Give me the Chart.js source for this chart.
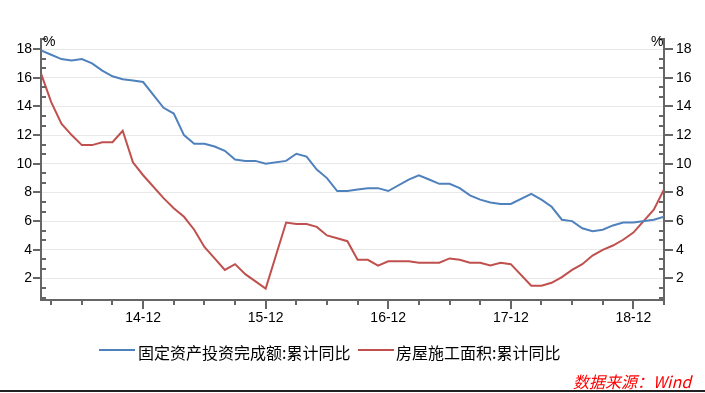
<!DOCTYPE html>
<html><head><meta charset="utf-8">
<script src="https://cdn.jsdelivr.net/npm/chart.js@4.4.1/dist/chart.umd.min.js"></script>
<style>
html,body{margin:0;padding:0;background:#fff;}
#wrap{position:relative;width:705px;height:393px;overflow:hidden;font-family:"Noto Sans CJK SC",sans-serif;}
#c{position:absolute;left:0;top:0;}
.pct{position:absolute;top:33px;font:14px "Liberation Sans",Arial,sans-serif;line-height:16px;color:#000;}
.leg{position:absolute;top:342px;font-size:16px;line-height:20px;color:#000;white-space:nowrap;}
.legline{position:absolute;top:349px;height:2px;width:36px;}
#src{position:absolute;left:573px;top:371px;font-size:16px;line-height:20px;color:#ff0000;font-style:italic;white-space:nowrap;}
#rule{position:absolute;left:0;top:390px;width:705px;height:2px;background:#222;}
</style></head>
<body>
<div id="wrap">
<canvas id="c" width="705" height="393"></canvas>
<div class="pct" style="left:43px">%</div>
<div class="pct" style="left:651px">%</div>
<div class="legline" style="left:99px;background:#4f81bd"></div>
<div class="leg" id="leg1" style="left:138px"></div>
<div class="legline" style="left:358px;background:#c0504d"></div>
<div class="leg" id="leg2" style="left:396px"></div>
<div id="src">数据来源：Wind</div>
<div id="rule"></div>
</div>
<script>
// ---- data (monthly cumulative YoY, %; January not published) ----
const dates = [
 '2014-02','2014-03','2014-04','2014-05','2014-06','2014-07','2014-08','2014-09','2014-10','2014-11','2014-12',
 '2015-02','2015-03','2015-04','2015-05','2015-06','2015-07','2015-08','2015-09','2015-10','2015-11','2015-12',
 '2016-02','2016-03','2016-04','2016-05','2016-06','2016-07','2016-08','2016-09','2016-10','2016-11','2016-12',
 '2017-02','2017-03','2017-04','2017-05','2017-06','2017-07','2017-08','2017-09','2017-10','2017-11','2017-12',
 '2018-02','2018-03','2018-04','2018-05','2018-06','2018-07','2018-08','2018-09','2018-10','2018-11','2018-12',
 '2019-02','2019-03'
];
const seriesNames = ['固定资产投资完成额:累计同比','房屋施工面积:累计同比'];
const fixedAssetInvYoY = [
 17.9,17.6,17.3,17.2,17.3,17.0,16.5,16.1,15.9,15.8,15.7,
 13.9,13.5,12.0,11.4,11.4,11.2,10.9,10.3,10.2,10.2,10.0,
 10.2,10.7,10.5,9.6,9.0,8.1,8.1,8.2,8.3,8.3,8.1,
 8.9,9.2,8.9,8.6,8.6,8.3,7.8,7.5,7.3,7.2,7.2,
 7.9,7.5,7.0,6.1,6.0,5.5,5.3,5.4,5.7,5.9,5.9,
 6.1,6.3
];
const constructionAreaYoY = [
 16.3,14.3,12.8,12.0,11.3,11.3,11.5,11.5,12.3,10.1,9.2,
 7.6,6.9,6.3,5.4,4.2,3.4,2.6,3.0,2.3,1.8,1.3,
 5.9,5.8,5.8,5.6,5.0,4.8,4.6,3.3,3.3,2.9,3.2,
 3.2,3.1,3.1,3.1,3.4,3.3,3.1,3.1,2.9,3.1,3.0,
 1.5,1.5,1.7,2.1,2.6,3.0,3.6,4.0,4.3,4.7,5.2,
 6.8,8.2
];
const xStart = '2014-02', xEnd = '2019-03';
const xTickMonths = ['2014-03','2014-06','2014-09','2014-12','2015-03','2015-06','2015-09','2015-12',
 '2016-03','2016-06','2016-09','2016-12','2017-03','2017-06','2017-09','2017-12',
 '2018-03','2018-06','2018-09','2018-12','2019-03'];
const xTickLabels = {'2014-12':'14-12','2015-12':'15-12','2016-12':'16-12','2017-12':'17-12','2018-12':'18-12'};
const yLabelValues = [2,4,6,8,10,12,14,16,18];
const yMin = 0.5, yMax = 18.7;

document.getElementById('leg1').textContent = seriesNames[0];
document.getElementById('leg2').textContent = seriesNames[1];

function mIdx(d){const [y,m]=d.split('-').map(Number);return (y-2014)*12+(m-2);}
const xTickVals = xTickMonths.map(mIdx);
const labelByIdx = {};
Object.keys(xTickLabels).forEach(k=>labelByIdx[mIdx(k)]=xTickLabels[k]);
const yMinorTicks = [];
for(let k=1;k*2/3<=yMax;k++){ if(k*2/3>=yMin) yMinorTicks.push({v:k*2/3, major:k%3===0}); }

const tickFont = {family:'"Liberation Sans", Arial, sans-serif', size:14};

const axisTicks = {
 id:'axisTicks',
 afterDraw(chart){
  const ctx=chart.ctx, ys=chart.scales.y, xs=chart.scales.x, a=chart.chartArea;
  ctx.save(); ctx.strokeStyle='#666'; ctx.lineWidth=2; ctx.beginPath();
  yMinorTicks.forEach(t=>{
   const py=Math.round(ys.getPixelForValue(t.v));
   if(t.major){ ctx.moveTo(a.left-8,py); ctx.lineTo(a.left,py); ctx.moveTo(a.right,py); ctx.lineTo(a.right+9,py); }
   else { ctx.moveTo(a.left,py); ctx.lineTo(a.left+5,py); ctx.moveTo(a.right-5,py); ctx.lineTo(a.right,py); }
  });
  xTickVals.forEach(v=>{
   const px=Math.round(xs.getPixelForValue(v));
   const len = labelByIdx[v] ? 9 : 5;
   ctx.moveTo(px,a.bottom); ctx.lineTo(px,a.bottom+len);
  });
  ctx.stroke(); ctx.restore();
 }
};

const toPts = arr => dates.map((d,i)=>({x:mIdx(d), y:arr[i]}));

new Chart(document.getElementById('c'),{
 type:'line',
 data:{datasets:[
  {label:seriesNames[0], data:toPts(fixedAssetInvYoY), borderColor:'#4f81bd', backgroundColor:'#4f81bd', borderWidth:2, yAxisID:'y'},
  {label:seriesNames[1], data:toPts(constructionAreaYoY), borderColor:'#c0504d', backgroundColor:'#c0504d', borderWidth:2, yAxisID:'y'}
 ]},
 options:{
  responsive:false, animation:false, devicePixelRatio:1,
  layout:{padding:{top:39,bottom:63,left:0,right:0}},
  plugins:{legend:{display:false},tooltip:{enabled:false}},
  elements:{point:{radius:0},line:{tension:0}},
  scales:{
   x:{type:'linear', min:mIdx(xStart), max:mIdx(xEnd),
      afterBuildTicks:s=>{s.ticks=xTickVals.map(v=>({value:v}));},
      afterFit:s=>{s.height=30;},
      grid:{display:true,drawOnChartArea:false,drawTicks:false},
      border:{display:true,color:'#666',width:2},
      ticks:{autoSkip:false,maxRotation:0,minRotation:0,padding:10,font:tickFont,color:'#000',
             callback:v=>labelByIdx[v]||''}},
   y:{position:'left', min:yMin, max:yMax,
      afterBuildTicks:s=>{s.ticks=yLabelValues.map(v=>({value:v}));},
      afterFit:s=>{s.width=41;},
      grid:{display:true,color:'#e8e8e8',lineWidth:1,drawTicks:false},
      border:{display:true,color:'#666',width:2},
      ticks:{padding:9,font:tickFont,color:'#000'}},
   y2:{position:'right', min:yMin, max:yMax,
      afterBuildTicks:s=>{s.ticks=yLabelValues.map(v=>({value:v}));},
      afterFit:s=>{s.width=41;},
      grid:{display:true,drawOnChartArea:false,drawTicks:false},
      border:{display:true,color:'#666',width:2},
      ticks:{padding:12,font:tickFont,color:'#000'}}
  }
 },
 plugins:[axisTicks]
});
</script>
</body></html>
